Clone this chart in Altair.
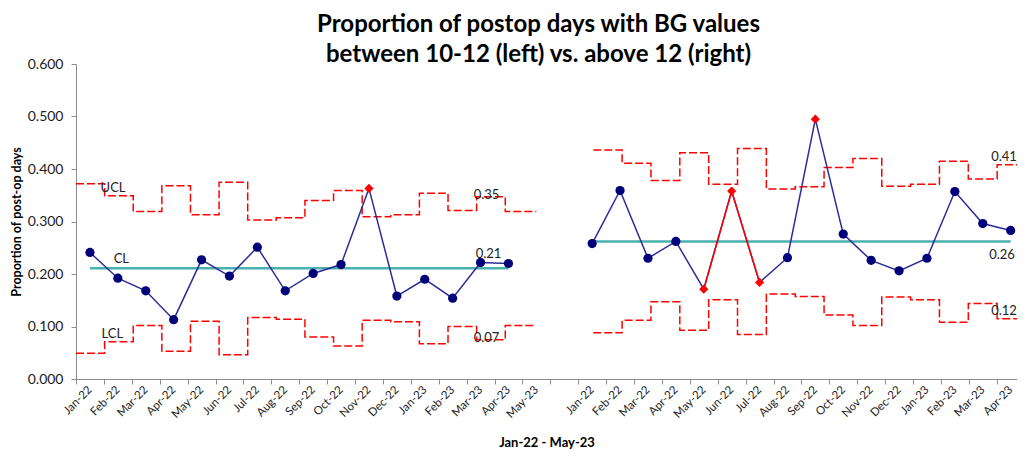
import json
import altair as alt
import pandas as pd

# ---------------- data ----------------
months_left = ["Jan-22", "Feb-22", "Mar-22", "Apr-22", "May-22", "Jun-22", "Jul-22", "Aug-22",
               "Sep-22", "Oct-22", "Nov-22", "Dec-22", "Jan-23", "Feb-23", "Mar-23", "Apr-23", "May-23"]
months_right = ["Jan-22", "Feb-22", "Mar-22", "Apr-22", "May-22", "Jun-22", "Jul-22", "Aug-22",
                "Sep-22", "Oct-22", "Nov-22", "Dec-22", "Jan-23", "Feb-23", "Mar-23", "Apr-23"]

left_p = [0.241, 0.192, 0.168, 0.113, 0.227, 0.196, 0.251, 0.168,
          0.201, 0.218, 0.363, 0.158, 0.190, 0.154, 0.222, 0.220]
left_cl = 0.211
left_ucl = [0.372, 0.349, 0.319, 0.368, 0.313, 0.375, 0.303, 0.307,
            0.340, 0.359, 0.309, 0.313, 0.354, 0.321, 0.347, 0.319]
left_lcl = [0.049, 0.071, 0.102, 0.053, 0.110, 0.046, 0.117, 0.114,
            0.080, 0.063, 0.112, 0.109, 0.067, 0.100, 0.075, 0.102]
left_signal = ["Nov-22"]

right_p = [0.258, 0.359, 0.230, 0.262, 0.171, 0.358, 0.184, 0.231,
           0.495, 0.276, 0.226, 0.206, 0.230, 0.357, 0.296, 0.283]
right_cl = 0.262
right_ucl = [0.436, 0.411, 0.378, 0.431, 0.371, 0.439, 0.362, 0.366,
             0.403, 0.420, 0.367, 0.371, 0.415, 0.381, 0.408, 0.409]
right_lcl = [0.088, 0.112, 0.147, 0.093, 0.151, 0.085, 0.162, 0.157,
             0.122, 0.102, 0.156, 0.151, 0.108, 0.144, 0.115, 0.116]
right_signal = ["May-22", "Jun-22", "Jul-22", "Sep-22"]
right_red_run = ["May-22", "Jun-22", "Jul-22"]

y_ticks = [0.0, 0.1, 0.2, 0.3, 0.4, 0.5, 0.6]

# ---------------- layout constants ----------------
NAVY = "#00007A"
LINE_BLUE = "#2B2D96"
RED = "#FF0000"
TEAL = "#4BB0B0"
FONT = "Lato"
PLOT_W, PLOT_H = 941, 315
CAT_PX = 27.9
X_MAX = PLOT_W / CAT_PX
RIGHT_START = len(months_left) + 1          # one empty category between the panels
STEP_L0, STEP_LW = 0.0, 1.0257              # step-line offset / width (category units)
STEP_R0, STEP_RW = 18.54, 1.034

all_labels = months_left + [""] + months_right
tick_values = list(range(len(all_labels)))

# ---------------- tables ----------------
pts = []
for i, m in enumerate(months_left[:len(left_p)]):
    pts.append({"x": i + 0.5, "y": left_p[i], "side": "L", "month": m,
                "signal": m in left_signal})
for i, m in enumerate(months_right):
    pts.append({"x": RIGHT_START + i + 0.5, "y": right_p[i], "side": "R", "month": m,
                "signal": m in right_signal})
pts = pd.DataFrame(pts)

red_run = pts[(pts.side == "R") & (pts.month.isin(right_red_run))]

steps = []
def add_steps(vals, x0, w, name, end=None):
    for i, v in enumerate(vals):
        steps.append({"x": x0 + i * w, "y": v, "series": name})
    steps.append({"x": end if end is not None else x0 + len(vals) * w, "y": vals[-1], "series": name})
add_steps(left_ucl, STEP_L0, STEP_LW, "LU", end=len(left_p) + 0.5)
add_steps(left_lcl, STEP_L0, STEP_LW, "LL", end=len(left_p) + 0.5)
add_steps(right_ucl, STEP_R0, STEP_RW, "RU")
add_steps(right_lcl, STEP_R0, STEP_RW, "RL")
steps = pd.DataFrame(steps)

cl = pd.DataFrame([
    {"x": 0.5, "x2": len(left_p) - 0.5, "y": left_cl},
    {"x": RIGHT_START + 0.5, "x2": RIGHT_START + len(right_p) - 0.5, "y": right_cl},
])

n = len(left_p)
labels = [
    {"x": STEP_L0 + 1 * STEP_LW, "y": left_ucl[1], "text": "UCL", "dx": -4, "dy": -8},
    {"x": 1.35, "y": left_cl, "text": "CL", "dx": 0, "dy": -9},
    {"x": STEP_L0 + 1 * STEP_LW, "y": left_lcl[1], "text": "LCL", "dx": -3, "dy": -8},
    {"x": STEP_L0 + (n - 2) * STEP_LW, "y": left_ucl[-2], "text": f"{left_ucl[-2]:.2f}", "dx": -3, "dy": -2},
    {"x": STEP_L0 + (n - 2) * STEP_LW, "y": left_cl, "text": f"{left_cl:.2f}", "dx": -1, "dy": -14},
    {"x": STEP_L0 + (n - 2) * STEP_LW, "y": left_lcl[-2], "text": f"{left_lcl[-2]:.2f}", "dx": -3, "dy": -2},
    {"x": STEP_R0 + (n - 2) * STEP_RW, "y": right_ucl[-2], "text": f"{right_ucl[-2]:.2f}", "dx": -6, "dy": -8},
    {"x": STEP_R0 + (n - 2) * STEP_RW, "y": right_cl, "text": f"{right_cl:.2f}", "dx": -8, "dy": 14},
    {"x": STEP_R0 + (n - 2) * STEP_RW, "y": right_lcl[-2], "text": f"{right_lcl[-2]:.2f}", "dx": -6, "dy": -8},
]

# ---------------- encodings ----------------
xscale = alt.Scale(domain=[0, X_MAX], nice=False, zero=False)
xaxis = alt.Axis(
    values=tick_values,
    labelExpr=json.dumps(all_labels) + "[datum.value]",
    labelOffset=CAT_PX / 2,
    labelAngle=-45, labelAlign="right", labelBaseline="middle",
    labelPadding=4, labelOverlap=False, labelFlush=False, labelBound=False,
    tickSize=5, title="Jan-22 - May-23", titleY=63, titleBaseline="middle",
    titleFontSize=13, titleFontWeight="bold",
)
yscale = alt.Scale(domain=[0, 0.6], nice=False)
yaxis = alt.Axis(
    values=y_ticks, format=".3f", tickSize=5, labelPadding=8,
    title="Proportion of post-op days", titleFontSize=12.5, titleFontWeight="bold",
    titleX=-60, titleY=PLOT_H / 2, titleAngle=-90, titleBaseline="middle", titleAlign="center",
)

def X(f="x"):
    return alt.X(f"{f}:Q", scale=xscale, axis=xaxis)

def Y():
    return alt.Y("y:Q", scale=yscale, axis=yaxis)

step_layer = alt.Chart(steps).mark_line(
    interpolate="step-after", color=RED, strokeWidth=1.5, strokeDash=[8, 3], clip=True
).encode(x=X(), y=Y(), detail="series:N")

cl_layer = alt.Chart(cl).mark_rule(color=TEAL, strokeWidth=2.5, clip=True).encode(
    x=X(), x2="x2:Q", y=Y()
)

line_l = alt.Chart(pts[pts.side == "L"]).mark_line(color=LINE_BLUE, strokeWidth=1.5, clip=True).encode(
    x=X(), y=Y(), order="x:Q")
line_r = alt.Chart(pts[pts.side == "R"]).mark_line(color=LINE_BLUE, strokeWidth=1.5, clip=True).encode(
    x=X(), y=Y(), order="x:Q")
line_red = alt.Chart(red_run).mark_line(color=RED, strokeWidth=1.5, clip=True).encode(
    x=X(), y=Y(), order="x:Q")

dots = alt.Chart(pts[~pts.signal]).mark_point(
    shape="circle", filled=True, size=85, color=NAVY, opacity=1, clip=True
).encode(x=X(), y=Y())
diamonds = alt.Chart(pts[pts.signal]).mark_point(
    shape="diamond", filled=True, size=85, color=RED, opacity=1, clip=True
).encode(x=X(), y=Y())

text_layers = []
for lab in labels:
    text_layers.append(
        alt.Chart(pd.DataFrame([lab])).mark_text(
            align="left", baseline="middle", font=FONT, fontSize=13, color="#222222",
            dx=lab["dx"], dy=lab["dy"],
        ).encode(x=X(), y=Y(), text="text:N")
    )

chart = alt.layer(
    step_layer, cl_layer, line_l, line_r, line_red, dots, diamonds, *text_layers
).properties(
    width=PLOT_W, height=PLOT_H,
    autosize="none",
    padding={"left": 68, "top": 56, "right": 0, "bottom": 70},
    title=alt.TitleParams(
        text=["Proportion of postop days with BG values",
              "between 10-12 (left) vs. above 12 (right)"],
        font=FONT, fontSize=24, fontWeight="bold", color="#000000",
        anchor="middle", offset=4, lineHeight=30, dx=-8, dy=14,
    ),
).configure_view(stroke=None).configure_axis(
    grid=False, domainColor="#8C8C8C", tickColor="#8C8C8C",
    labelFont=FONT, titleFont=FONT, labelColor="#222222", titleColor="#000000",
).configure_axisY(labelFontSize=14).configure_axisX(labelFontSize=11.5)

chart.save("out.html", embed_options={"renderer": "svg", "actions": False})
